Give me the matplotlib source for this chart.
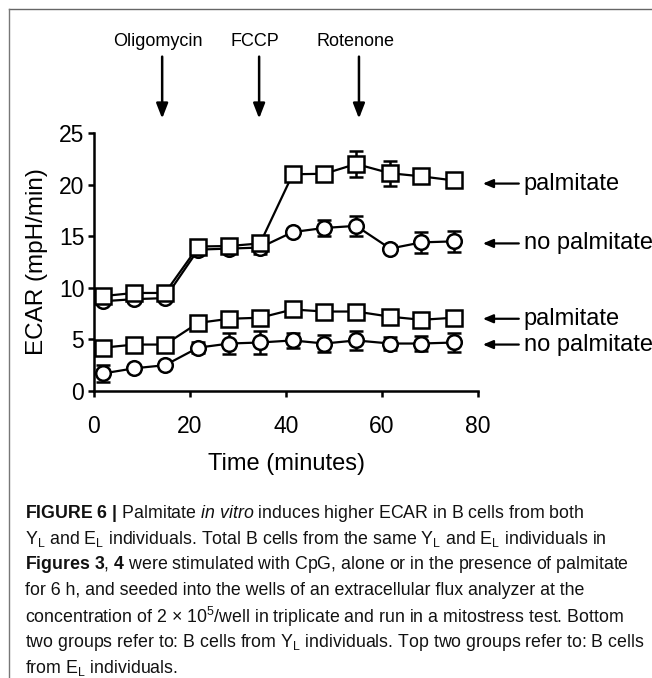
import numpy as np
import matplotlib
matplotlib.use("Agg")
import matplotlib.pyplot as plt
from matplotlib.lines import Line2D

plt.rcParams['font.family'] = ['Liberation Sans', 'DejaVu Sans']
plt.rcParams['mathtext.fontset'] = 'custom'
plt.rcParams['mathtext.rm'] = 'Liberation Sans'
plt.rcParams['mathtext.it'] = 'Liberation Sans:italic'
plt.rcParams['mathtext.bf'] = 'Liberation Sans:bold'

# measurement times (minutes)
time_min = [1.9, 8.4, 14.8, 21.7, 28.2, 34.6, 41.4, 48.0, 54.6, 61.7, 68.2, 75.0]

# E_L individuals (top two groups)
el_palm = [9.2, 9.5, 9.5, 14.0, 14.05, 14.3, 21.0, 21.05, 22.0, 21.1, 20.8, 20.4]
el_palm_err = [0.3, 0.3, 0.3, 0.3, 0.3, 0.3, 0.3, 0.3, 1.3, 1.2, 0.6, 0.3]
el_nopalm = [8.7, 8.9, 9.0, 13.7, 13.8, 13.9, 15.4, 15.8, 16.0, 13.8, 14.4, 14.5]
el_nopalm_err = [0.3, 0.3, 0.3, 0.4, 0.3, 0.6, 0.3, 0.8, 1.0, 0.3, 1.0, 1.0]

# Y_L individuals (bottom two groups)
yl_palm = [4.2, 4.5, 4.5, 6.6, 7.0, 7.1, 7.9, 7.7, 7.7, 7.2, 6.9, 7.1]
yl_palm_err = [0.3, 0.3, 0.3, 0.3, 0.3, 0.3, 0.3, 0.3, 0.3, 0.3, 0.3, 0.3]
yl_nopalm = [1.7, 2.2, 2.5, 4.2, 4.6, 4.7, 4.9, 4.6, 4.9, 4.6, 4.6, 4.7]
yl_nopalm_err = [0.8, 0.3, 0.3, 0.5, 1.0, 1.1, 0.7, 0.8, 0.9, 0.6, 0.7, 0.9]

# injections
drugs = ['Oligomycin', 'FCCP', 'Rotenone']
drug_times = [14.2, 34.4, 55.2]

# right-hand group labels
group_labels = ['palmitate', 'no palmitate', 'palmitate', 'no palmitate']
group_label_y = [20.1, 14.3, 7.0, 4.5]

fig = plt.figure(figsize=(6.52, 6.78), dpi=100)
ax = fig.add_axes([94 / 652, 1 - 391 / 678, 384 / 652, 258 / 678])

series = [
    (yl_nopalm, yl_nopalm_err, 'o', 10.5),
    (yl_palm, yl_palm_err, 's', 11.5),
    (el_nopalm, el_nopalm_err, 'o', 10.5),
    (el_palm, el_palm_err, 's', 11.5),
]
z = 3
for vals, err, mk, ms in series:
    ax.errorbar(time_min, vals, yerr=err, fmt='none', ecolor='black',
                elinewidth=1.8, capsize=5, capthick=1.8, zorder=z)
    ax.plot(time_min, vals, color='black', lw=1.6, marker=mk, ms=ms,
            mfc='white', mec='black', mew=1.8, zorder=z + 1)
    z += 2

ax.set_xlim(0, 80)
ax.set_ylim(0, 25)
ax.set_xticks([0, 20, 40, 60, 80])
ax.set_yticks([0, 5, 10, 15, 20, 25])
for s in ['top', 'right']:
    ax.spines[s].set_visible(False)
for s in ['left', 'bottom']:
    ax.spines[s].set_linewidth(1.8)
ax.tick_params(width=1.8, length=4, labelsize=16.5)
ax.tick_params(axis='x', pad=13)
ax.tick_params(axis='y', pad=3)
ax.set_xlabel('Time (minutes)', fontsize=17, labelpad=11)
ax.set_ylabel('ECAR (mpH/min)', fontsize=17.5, labelpad=8)

# drug injection arrows
for name, t in zip(drugs, drug_times):
    ax.annotate('', xy=(t, 26.4), xytext=(t, 32.4), annotation_clip=False,
                arrowprops=dict(arrowstyle='-|>,head_length=0.9,head_width=0.35',
                                lw=1.8, color='black', shrinkA=0, shrinkB=0))
    ax.text(t - 0.8, 33.9, name, ha='center', va='center', fontsize=13,
            clip_on=False)

# group arrows on the right
for lab, yv in zip(group_labels, group_label_y):
    ax.annotate('', xy=(81, yv), xytext=(88.5, yv), annotation_clip=False,
                arrowprops=dict(arrowstyle='-|>,head_length=0.6,head_width=0.25',
                                lw=1.6, color='black', shrinkA=0, shrinkB=0))
    ax.text(89.5, yv, lab, ha='left', va='center', fontsize=17, clip_on=False)

# page frame
fig.add_artist(Line2D([9 / 652, 1], [1 - 9 / 678, 1 - 9 / 678], color='#666666', lw=1.0))
fig.add_artist(Line2D([9 / 652, 9 / 652], [0, 1 - 9 / 678], color='#777777', lw=1.0))

caption = [
    r"$\mathbf{FIGURE\ 6\ |}$ Palmitate $\mathit{in\ vitro}$ induces higher ECAR in B cells from both",
    r"Y$_\mathrm{L}$ and E$_\mathrm{L}$ individuals. Total B cells from the same Y$_\mathrm{L}$ and E$_\mathrm{L}$ individuals in",
    r"$\mathbf{Figures\ 3}$, $\mathbf{4}$ were stimulated with CpG, alone or in the presence of palmitate",
    "for 6 h, and seeded into the wells of an extracellular flux analyzer at the",
    r"concentration of 2 $\times$ 10$^\mathrm{5}$/well in triplicate and run in a mitostress test. Bottom",
    r"two groups refer to: B cells from Y$_\mathrm{L}$ individuals. Top two groups refer to: B cells",
    r"from E$_\mathrm{L}$ individuals.",
]
for i, line in enumerate(caption):
    fig.text(25 / 652, 1 - (513 + i * 25.9) / 678, line, ha='left', va='center',
             fontsize=12.8, color='#111111')

fig.savefig('out.png', dpi=100)
